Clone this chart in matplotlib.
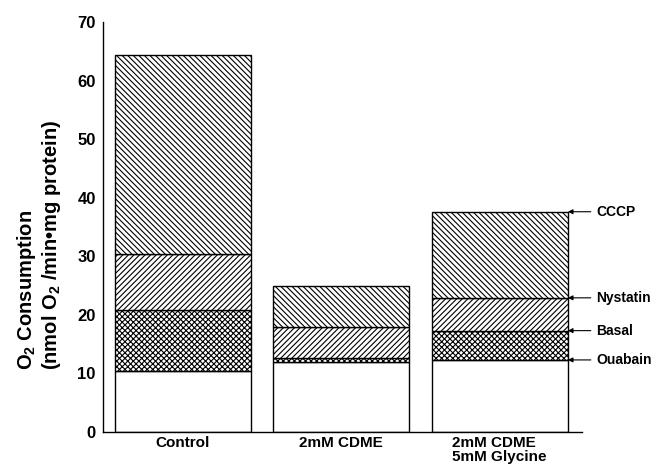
import matplotlib
matplotlib.use("Agg")
import matplotlib.pyplot as plt

plt.rcParams['font.family'] = ['Liberation Sans', 'DejaVu Sans']
plt.rcParams['font.weight'] = 'bold'
plt.rcParams['mathtext.fontset'] = 'custom'
plt.rcParams['mathtext.rm'] = 'Liberation Sans:bold'
plt.rcParams['mathtext.default'] = 'rm'
plt.rcParams['hatch.linewidth'] = 0.8

categories = ['Control', '2mM CDME', '2mM CDME\n5mM Glycine']
ouabain = [10.4, 12.0, 12.3]
basal = [20.9, 12.7, 17.3]
nystatin = [30.4, 18.0, 22.9]
cccp = [64.4, 25.0, 37.6]
level_labels = ['CCCP', 'Nystatin', 'Basal', 'Ouabain']
yticks = [0, 10, 20, 30, 40, 50, 60, 70]

fig = plt.figure(figsize=(6.63, 4.67), dpi=100)
ax = fig.add_axes([0.155, 0.075, 0.723, 0.878])

x = list(range(len(categories)))
w = 0.86
seg_bottoms = [[0] * 3, ouabain, basal, nystatin]
seg_tops = [ouabain, basal, nystatin, cccp]
hatches = [None, 'xxxxxx', '//////', '\\' * 6]
for b, t, h in zip(seg_bottoms, seg_tops, hatches):
    heights = [tt - bb for tt, bb in zip(t, b)]
    ax.bar(x, heights, width=w, bottom=b, color='white', edgecolor='black',
           linewidth=1.0, hatch=h, zorder=2)

ax.set_xlim(-0.506, 2.52)
ax.set_ylim(0, 70)
ax.set_yticks(yticks)
ax.set_yticklabels([str(v) for v in yticks], fontsize=12, fontweight='bold')
ax.set_xticks(x)
ax.set_xticklabels(categories, fontsize=11, fontweight='bold', va='top',
                   multialignment='left', linespacing=0.95)
ax.tick_params(axis='both', length=0)
ax.tick_params(axis='y', pad=5)
ax.tick_params(axis='x', pad=3)
for s in ['top', 'right']:
    ax.spines[s].set_visible(False)
for s in ['left', 'bottom']:
    ax.spines[s].set_linewidth(1.0)

levels = [cccp[2], nystatin[2], basal[2], ouabain[2]]
right_edge = x[2] + w / 2
for lab, lv in zip(level_labels, levels):
    ax.annotate(lab, xy=(right_edge, lv), xytext=(2.61, lv), va='center', ha='left',
                fontsize=10, fontweight='bold', annotation_clip=False,
                arrowprops=dict(arrowstyle='-|>', lw=0.8, color='black',
                                shrinkA=2, shrinkB=0, mutation_scale=7))

fig.text(0.040, 0.208, r'O$_2$ Consumption', rotation=90, ha='center', va='bottom',
         fontsize=14.5, fontweight='bold')
fig.text(0.078, 0.208, r'(nmol O$_2$ /min•mg protein)', rotation=90, ha='center',
         va='bottom', fontsize=14.5, fontweight='bold')

fig.savefig('out.png', dpi=100)
